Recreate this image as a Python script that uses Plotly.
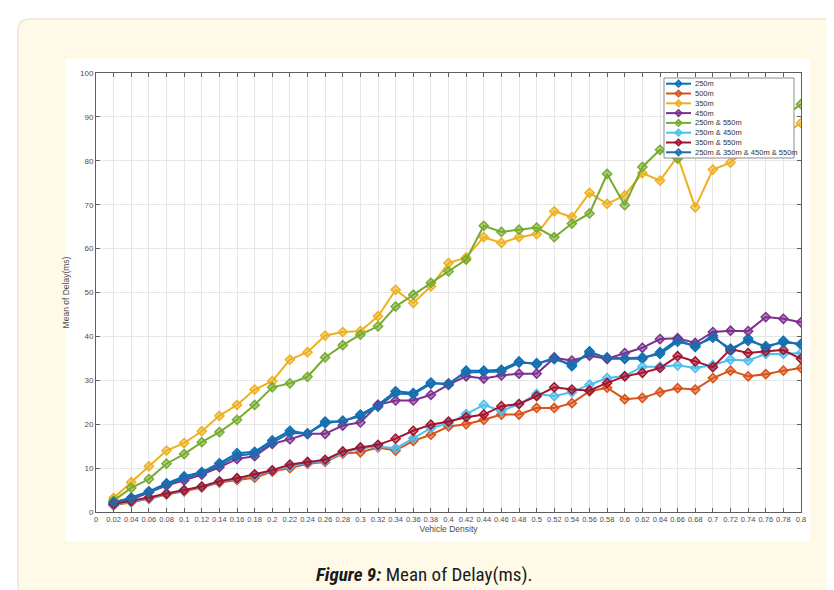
import plotly.graph_objects as go

# ---------------- data ----------------
density = [0.02, 0.04, 0.06, 0.08, 0.10, 0.12, 0.14, 0.16, 0.18, 0.20,
           0.22, 0.24, 0.26, 0.28, 0.30, 0.32, 0.34, 0.36, 0.38, 0.40,
           0.42, 0.44, 0.46, 0.48, 0.50, 0.52, 0.54, 0.56, 0.58, 0.60,
           0.62, 0.64, 0.66, 0.68, 0.70, 0.72, 0.74, 0.76, 0.78, 0.80]

x_tick_vals = [0, 0.02, 0.04, 0.06, 0.08, 0.1, 0.12, 0.14, 0.16, 0.18, 0.2,
               0.22, 0.24, 0.26, 0.28, 0.3, 0.32, 0.34, 0.36, 0.38, 0.4,
               0.42, 0.44, 0.46, 0.48, 0.5, 0.52, 0.54, 0.56, 0.58, 0.6,
               0.62, 0.64, 0.66, 0.68, 0.7, 0.72, 0.74, 0.76, 0.78, 0.8]
x_tick_text = ["0", "0.02", "0.04", "0.06", "0.08", "0.1", "0.12", "0.14", "0.16", "0.18", "0.2",
               "0.22", "0.24", "0.26", "0.28", "0.3", "0.32", "0.34", "0.36", "0.38", "0.4",
               "0.42", "0.44", "0.46", "0.48", "0.5", "0.52", "0.54", "0.56", "0.58", "0.6",
               "0.62", "0.64", "0.66", "0.68", "0.7", "0.72", "0.74", "0.76", "0.78", "0.8"]
y_tick_vals = [0, 10, 20, 30, 40, 50, 60, 70, 80, 90, 100]

delay_250m = [2.1, 3.3, 4.7, 6.5, 8.1, 9.1, 11.1, 13.4, 13.7, 16.3,
              18.5, 17.8, 20.6, 20.6, 22.2, 24.4, 27.5, 27.1, 29.5, 29.0,
              32.2, 32.2, 32.4, 34.3, 33.6, 35.2, 33.2, 36.6, 34.9, 34.9,
              34.9, 36.4, 39.3, 37.6, 40.2, 36.7, 39.5, 37.4, 39.0, 38.1]
delay_500m = [1.5, 2.2, 3.0, 4.0, 4.7, 5.6, 6.7, 7.3, 7.8, 9.2,
              10.0, 11.0, 11.4, 13.3, 13.6, 14.7, 14.0, 16.2, 17.6, 19.5,
              20.0, 21.0, 22.2, 22.2, 23.7, 23.7, 24.8, 27.5, 28.3, 25.7,
              26.0, 27.3, 28.2, 27.9, 30.5, 32.2, 30.9, 31.4, 32.2, 32.8]
delay_350m = [3.2, 6.8, 10.4, 14.0, 15.7, 18.4, 21.9, 24.4, 27.9, 29.8,
              34.7, 36.4, 40.2, 41.0, 41.2, 44.6, 50.6, 47.6, 51.4, 56.7,
              58.0, 62.6, 61.3, 62.6, 63.3, 68.5, 67.2, 72.7, 70.2, 72.1,
              77.2, 75.5, 81.0, 69.4, 78.0, 79.6, 83.0, 84.5, 86.0, 88.6]
delay_450m = [1.7, 2.8, 4.5, 6.0, 7.2, 8.5, 10.2, 12.1, 12.7, 15.5,
              16.6, 17.8, 17.8, 19.7, 20.4, 24.4, 25.4, 25.4, 26.7, 29.0,
              30.9, 30.4, 31.1, 31.5, 31.5, 35.1, 34.5, 35.6, 34.9, 36.2,
              37.4, 39.4, 39.6, 38.5, 41.0, 41.3, 41.2, 44.4, 44.0, 43.2]
delay_250_550 = [2.6, 5.5, 7.5, 11.0, 13.2, 15.9, 18.2, 21.0, 24.4, 28.4,
                 29.3, 30.8, 35.2, 38.0, 40.4, 42.3, 46.8, 49.5, 52.2, 54.8,
                 57.5, 65.2, 63.8, 64.3, 64.8, 62.6, 65.7, 68.0, 77.0, 69.9,
                 78.6, 82.5, 80.5, 84.0, 86.0, 87.0, 88.0, 89.0, 90.0, 92.9]
delay_250_450 = [1.6, 2.3, 3.1, 4.1, 4.9, 5.7, 6.9, 7.6, 8.3, 9.4,
                 10.4, 11.2, 11.6, 13.5, 14.5, 14.9, 14.5, 16.8, 19.1, 20.2,
                 22.3, 24.4, 23.0, 24.6, 26.9, 26.4, 27.3, 29.0, 30.5, 31.0,
                 33.1, 33.1, 33.4, 32.8, 33.5, 34.7, 34.5, 36.0, 36.0, 36.2]
delay_350_550 = [1.8, 2.5, 3.3, 4.2, 5.0, 5.8, 7.0, 7.7, 8.6, 9.5,
                 10.8, 11.4, 11.9, 13.8, 14.7, 15.3, 16.7, 18.5, 19.9, 20.6,
                 21.6, 22.2, 24.1, 24.6, 26.4, 28.4, 27.9, 27.7, 29.4, 30.9,
                 31.7, 32.8, 35.5, 34.3, 33.0, 37.1, 36.2, 36.6, 36.9, 34.9]
delay_combo = [2.3, 3.1, 4.5, 6.2, 7.7, 8.8, 10.6, 12.8, 13.3, 15.8,
               18.0, 17.9, 20.2, 20.8, 21.8, 24.0, 27.0, 26.8, 29.2, 29.3,
               31.8, 31.9, 32.0, 34.0, 33.9, 34.8, 33.6, 36.2, 35.2, 35.0,
               35.2, 36.0, 38.8, 37.9, 39.7, 37.2, 39.0, 37.8, 38.6, 38.3]

series_names = ["250m", "500m", "350m", "450m", "250m & 550m",
                "250m & 450m", "350m & 550m", "250m & 350m & 450m & 550m"]
series_values = [delay_250m, delay_500m, delay_350m, delay_450m, delay_250_550,
                 delay_250_450, delay_350_550, delay_combo]
series_colors = ["#0072BD", "#D95319", "#EDB120", "#7E2F8E", "#77AC30",
                 "#4DBEEE", "#A2142F", "#1C6FAE"]

caption_bold = "Figure 9:"
caption_rest = " Mean of Delay(ms)."

# ---------------- geometry (pixels) ----------------
W, H = 834, 590
ML, MR, MT, MB = 88, 41, 65, 86
PW, PH = W - ML - MR, H - MT - MB


def px(xpix):
    return (xpix - ML) / PW


def py(ypix):
    return (H - MB - ypix) / PH


def hex_rgba(h, a):
    h = h.lstrip("#")
    return f"rgba({int(h[0:2], 16)},{int(h[2:4], 16)},{int(h[4:6], 16)},{a})"


def rounded_rect(x0, y0, x1, y1, r):
    return (f"M {px(x0 + r)},{py(y0)} L {px(x1 - r)},{py(y0)} "
            f"Q {px(x1)},{py(y0)} {px(x1)},{py(y0 + r)} L {px(x1)},{py(y1 - r)} "
            f"Q {px(x1)},{py(y1)} {px(x1 - r)},{py(y1)} L {px(x0 + r)},{py(y1)} "
            f"Q {px(x0)},{py(y1)} {px(x0)},{py(y1 - r)} L {px(x0)},{py(y0 + r)} "
            f"Q {px(x0)},{py(y0)} {px(x0 + r)},{py(y0)} Z")


fig = go.Figure()

for name, vals, col in zip(series_names, series_values, series_colors):
    fig.add_trace(go.Scatter(
        x=density, y=vals, name=name, mode="lines+markers",
        line=dict(color=col, width=2),
        marker=dict(symbol="diamond", size=7, color=hex_rgba(col, 0.55),
                    line=dict(color=col, width=1.5)),
        showlegend=False,
    ))

shapes = [
    # cream page box
    dict(type="path", xref="paper", yref="paper", layer="below",
         path=rounded_rect(10, 11, 860, 620, 12),
         fillcolor="#FFFAE8", line=dict(color="#ECE7D3", width=1.5)),
    # white figure image area
    dict(type="rect", xref="paper", yref="paper", layer="below",
         x0=px(57), x1=px(802), y0=py(533), y1=py(51),
         fillcolor="#FFFFFF", line=dict(width=0)),
]

# legend (drawn as a compact MATLAB-like box)
LX0, LY0, LX1, LY1 = 656, 70, 786, 150
shapes.append(dict(type="rect", xref="paper", yref="paper", layer="above",
                   x0=px(LX0), x1=px(LX1), y0=py(LY1), y1=py(LY0),
                   fillcolor="#FFFFFF", line=dict(color="#8C8C8C", width=1)))
annotations = []
row_h = 9.8
for i, (name, col) in enumerate(zip(series_names, series_colors)):
    yc = LY0 + 5.7 + i * row_h
    shapes.append(dict(type="line", xref="paper", yref="paper", layer="above",
                       x0=px(LX0 + 2), x1=px(LX0 + 27), y0=py(yc), y1=py(yc),
                       line=dict(color=col, width=2)))
    cx, d = LX0 + 14.5, 3.3
    shapes.append(dict(type="path", xref="paper", yref="paper", layer="above",
                       path=(f"M {px(cx)},{py(yc - d)} L {px(cx + d)},{py(yc)} "
                             f"L {px(cx)},{py(yc + d)} L {px(cx - d)},{py(yc)} Z"),
                       fillcolor=hex_rgba(col, 0.55), line=dict(color=col, width=1.5)))
    annotations.append(dict(xref="paper", yref="paper", x=px(LX0 + 29), y=py(yc),
                            xanchor="left", yanchor="middle", showarrow=False,
                            text=name, font=dict(family="Liberation Sans, Arial, sans-serif",
                                                 size=7.5, color="#333333")))

annotations.append(dict(
    xref="paper", yref="paper", x=px(416), y=py(566), xanchor="center", yanchor="middle",
    showarrow=False,
    text=f"<b><i>{caption_bold}</i></b>{caption_rest}",
    font=dict(family="Liberation Sans Narrow, Roboto Condensed, Arial Narrow, sans-serif",
              size=19, color="#1a1a1a")))

axis_font = dict(family="Liberation Sans, Arial, sans-serif", size=7.5, color="#4D4D4D")

fig.update_layout(
    width=W, height=H, autosize=False,
    margin=dict(l=ML, r=MR, t=MT, b=MB, pad=0),
    paper_bgcolor="#FFFFFF", plot_bgcolor="rgba(0,0,0,0)",
    showlegend=False,
    shapes=shapes, annotations=annotations,
    xaxis=dict(range=[0, 0.8], tickmode="array", tickvals=x_tick_vals, ticktext=x_tick_text,
               ticks="inside", ticklen=4, tickcolor="#5E5E5E", tickwidth=1,
               showline=True, linecolor="#5E5E5E", linewidth=1, mirror="ticks",
               showgrid=True, gridcolor="#E6E6E6", gridwidth=1, zeroline=False,
               tickfont=axis_font, tickangle=0,
               title=dict(text="Vehicle Density", standoff=3,
                          font=dict(family="Liberation Sans, Arial, sans-serif", size=8.5, color="#4D4D4D"))),
    yaxis=dict(range=[0, 100], tickmode="array", tickvals=y_tick_vals,
               ticks="inside", ticklen=4, tickcolor="#5E5E5E", tickwidth=1,
               showline=True, linecolor="#5E5E5E", linewidth=1, mirror="ticks",
               showgrid=True, gridcolor="#E6E6E6", gridwidth=1, zeroline=False,
               tickfont=dict(family="Liberation Sans, Arial, sans-serif", size=8, color="#4D4D4D"),
               title=dict(text="Mean of Delay(ms)", standoff=9,
                          font=dict(family="Liberation Sans, Arial, sans-serif", size=8.5, color="#4D4D4D"))),
)

fig.write_html("out.html")
